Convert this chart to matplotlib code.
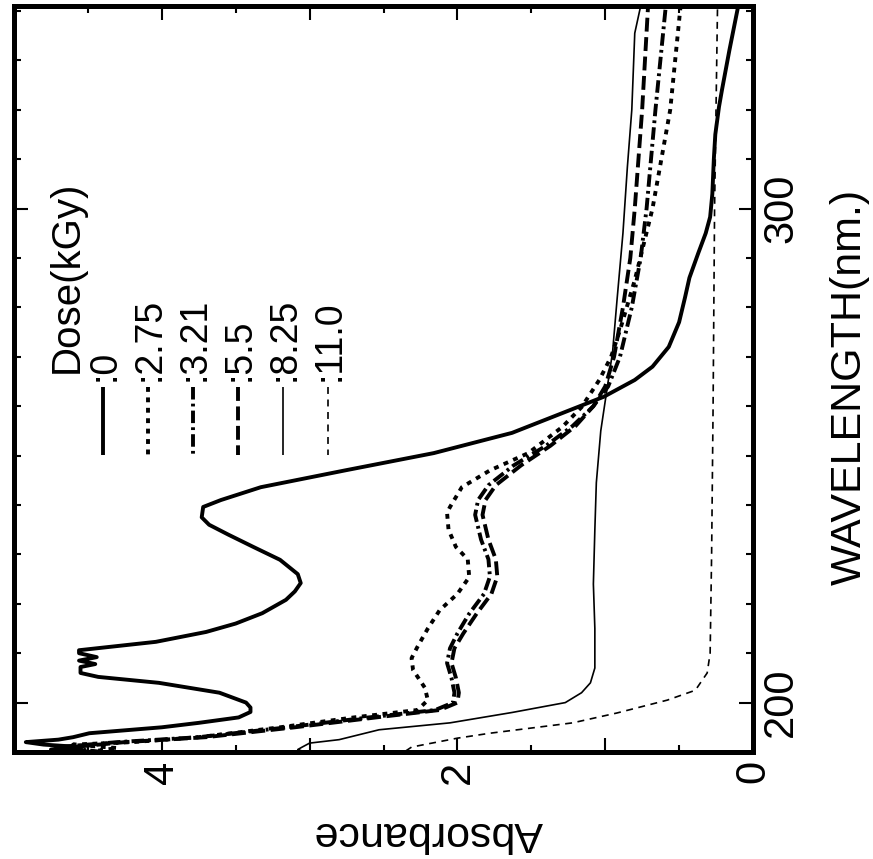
import matplotlib
matplotlib.use('Agg')
import matplotlib.pyplot as plt
from matplotlib.lines import Line2D
from matplotlib.ticker import MultipleLocator, FuncFormatter

plt.rcParams['font.family'] = ['Liberation Sans', 'DejaVu Sans']
plt.rcParams['lines.scale_dashes'] = False

# dose 0 kGy
wl_0 = [190, 190.5, 191, 191.5, 192, 192.5, 193, 193.8, 195, 195.9, 197, 198.1, 199, 200,
        202, 204, 205.2, 206, 207.2, 207.8, 208.5, 209.2, 210, 210.6, 212.3, 214.3, 216,
        218.1, 220.8, 222.5, 224.2, 226, 228.9, 231.5, 234, 236, 237.5, 239.6, 241, 243.6,
        247, 250.5, 254.6, 258.6, 261.9, 265.3, 268, 272, 277, 282, 286, 291, 295, 298.3,
        303, 310, 315, 320.6, 324, 332, 341]
abs_0 = [4.6, 4.75, 4.55, 4.8, 4.92, 4.7, 4.6, 4.49, 4.0, 3.75, 3.48, 3.40, 3.40, 3.43,
         3.61, 4.02, 4.43, 4.55, 4.55, 4.45, 4.56, 4.44, 4.56, 4.56, 4.04, 3.70, 3.50,
         3.32, 3.16, 3.10, 3.06, 3.08, 3.20, 3.38, 3.55, 3.68, 3.73, 3.72, 3.60, 3.33,
         2.76, 2.16, 1.63, 1.29, 1.01, 0.80, 0.68, 0.57, 0.50, 0.46, 0.43, 0.37, 0.32, 0.29,
         0.275, 0.265, 0.255, 0.23, 0.21, 0.16, 0.10]

# dose 2.75 kGy
wl_275 = [190, 190.8, 191.5, 192, 193, 195, 197, 198.5, 200.5, 203, 206.6, 209, 211.3, 215,
          218.7, 222, 225.4, 229, 231.5, 235, 238.4, 239.6, 243.6, 247, 250.5, 255.8, 259.8,
          265.3, 270, 275.4, 285.5, 300, 320, 341]
abs_275 = [4.5, 4.3, 4.6, 4.2, 3.75, 3.2, 2.7, 2.27, 2.20, 2.22, 2.30, 2.31, 2.27, 2.20,
           2.12, 2.00, 1.92, 1.93, 2.01, 2.06, 2.07, 2.05, 1.97, 1.78, 1.52, 1.29, 1.16,
           1.04, 0.96, 0.90, 0.80, 0.68, 0.56, 0.49]

# dose 3.21 kGy
wl_321 = [190, 191, 192, 193, 195, 197, 198.5, 200, 202, 205, 208, 211, 214, 218, 222, 225.5,
          229, 233, 238, 241, 244, 248, 252, 256, 260, 264, 270, 280, 290, 300, 320, 341]
abs_321 = [4.4, 4.7, 4.3, 3.75, 3.15, 2.6, 2.15, 2.03, 2.02, 2.04, 2.07, 2.05, 2.00, 1.92,
           1.82, 1.78, 1.79, 1.84, 1.88, 1.86, 1.79, 1.62, 1.40, 1.22, 1.08, 0.98, 0.90,
           0.82, 0.76, 0.72, 0.66, 0.59]

# dose 5.5 kGy
wl_55 = [190, 191, 192, 193, 195, 197, 198.5, 200, 202, 205, 208, 211, 214, 218, 222, 225.5,
         229, 233, 238, 241, 244, 248, 252, 256, 260, 264, 270, 280, 290, 300, 320, 341]
abs_55 = [4.5, 4.6, 4.25, 3.7, 3.1, 2.55, 2.12, 2.00, 1.99, 2.01, 2.04, 2.02, 1.96, 1.87,
          1.77, 1.73, 1.74, 1.79, 1.83, 1.81, 1.74, 1.57, 1.37, 1.20, 1.08, 1.00, 0.94,
          0.88, 0.83, 0.80, 0.75, 0.71]

# dose 8.25 kGy
wl_825 = [190, 190.5, 191, 191.8, 192.5, 194.5, 195.9, 198, 200, 202, 204, 207, 215, 224,
          235, 244.5, 255, 261, 271, 281.5, 295, 308.4, 320, 335.5, 341]
abs_825 = [3.03, 3.08, 3.05, 3.00, 2.80, 2.53, 2.05, 1.63, 1.27, 1.16, 1.10, 1.07, 1.07,
           1.08, 1.07, 1.06, 1.03, 1.00, 0.95, 0.92, 0.88, 0.85, 0.82, 0.80, 0.76]

# dose 11.0 kGy
wl_110 = [190.2, 191, 192.8, 193.8, 195.9, 197.9, 200.5, 202.5, 206, 210, 230, 260, 300, 341]
abs_110 = [2.35, 2.31, 2.00, 1.78, 1.22, 0.92, 0.58, 0.39, 0.31, 0.29, 0.28, 0.27, 0.26, 0.24]

doses = ['0', '2.75', '3.21', '5.5', '8.25', '11.0']
series = [(wl_0, abs_0), (wl_275, abs_275), (wl_321, abs_321),
          (wl_55, abs_55), (wl_825, abs_825), (wl_110, abs_110)]
widths = [2.8, 2.8, 2.8, 2.8, 1.2, 1.2]
dash_styles = [None, (3.5, 4), (9, 3, 2, 3), (10, 4), None, (5, 4)]

W, H = 873, 859
fig = plt.figure(figsize=(W / 100, H / 100), dpi=100)
ax = fig.add_axes([14 / W, 1 - 752 / H, (753 - 14) / W, (752 - 6) / H])

for (wl, ab), lw, ds in zip(series, widths, dash_styles):
    line, = ax.plot(ab, wl, color='black', lw=lw, solid_capstyle='butt')
    if ds:
        line.set_dashes(ds)

ax.set_xlim(5, 0)
ax.set_ylim(190, 341)

ax.xaxis.set_major_locator(MultipleLocator(1))
ax.xaxis.set_minor_locator(MultipleLocator(0.5))
ax.xaxis.set_major_formatter(FuncFormatter(lambda v, p: f'{v:.0f}' if round(v) % 2 == 0 else ''))
ax.yaxis.set_major_locator(MultipleLocator(100))
ax.yaxis.set_minor_locator(MultipleLocator(10))

ax.tick_params(which='both', direction='in', top=True, bottom=True, left=True, right=True,
               labelleft=False, labelright=True, width=1.5, labelsize=30)
ax.tick_params(which='major', length=10)
ax.tick_params(which='minor', length=5)
ax.tick_params(axis='x', labelrotation=90, pad=6)
ax.tick_params(axis='y', labelrotation=90, pad=6)
for lbl in ax.get_yticklabels():
    lbl.set_va('center')

for sp in ax.spines.values():
    sp.set_linewidth(3.6)

fig.text(850 / W, 1 - 387 / H, 'WAVELENGTH(nm.)', rotation=90, ha='center', va='center',
         fontsize=31)
fig.text(428 / W, 1 - 833 / H, 'Absorbance', rotation=180, ha='center', va='center',
         fontsize=31)

# legend, drawn upright like the rest of the rotated page
fig.text(67 / W, 1 - 373 / H, 'Dose(kGy)', rotation=90, ha='center', va='bottom', fontsize=29)
for i, (d, lw, ds) in enumerate(zip(doses, widths, dash_styles)):
    x = 103 + i * 45
    seg = Line2D([x / W, x / W], [1 - 387 / H, 1 - 455 / H], transform=fig.transFigure,
                 color='black', lw=lw, solid_capstyle='butt')
    if ds:
        seg.set_dashes(ds)
    fig.add_artist(seg)
    fig.text((x + 2) / W, 1 - 381 / H, ':' + d, rotation=90, ha='center', va='bottom',
             fontsize=27)

fig.savefig('out.png', dpi=100)
